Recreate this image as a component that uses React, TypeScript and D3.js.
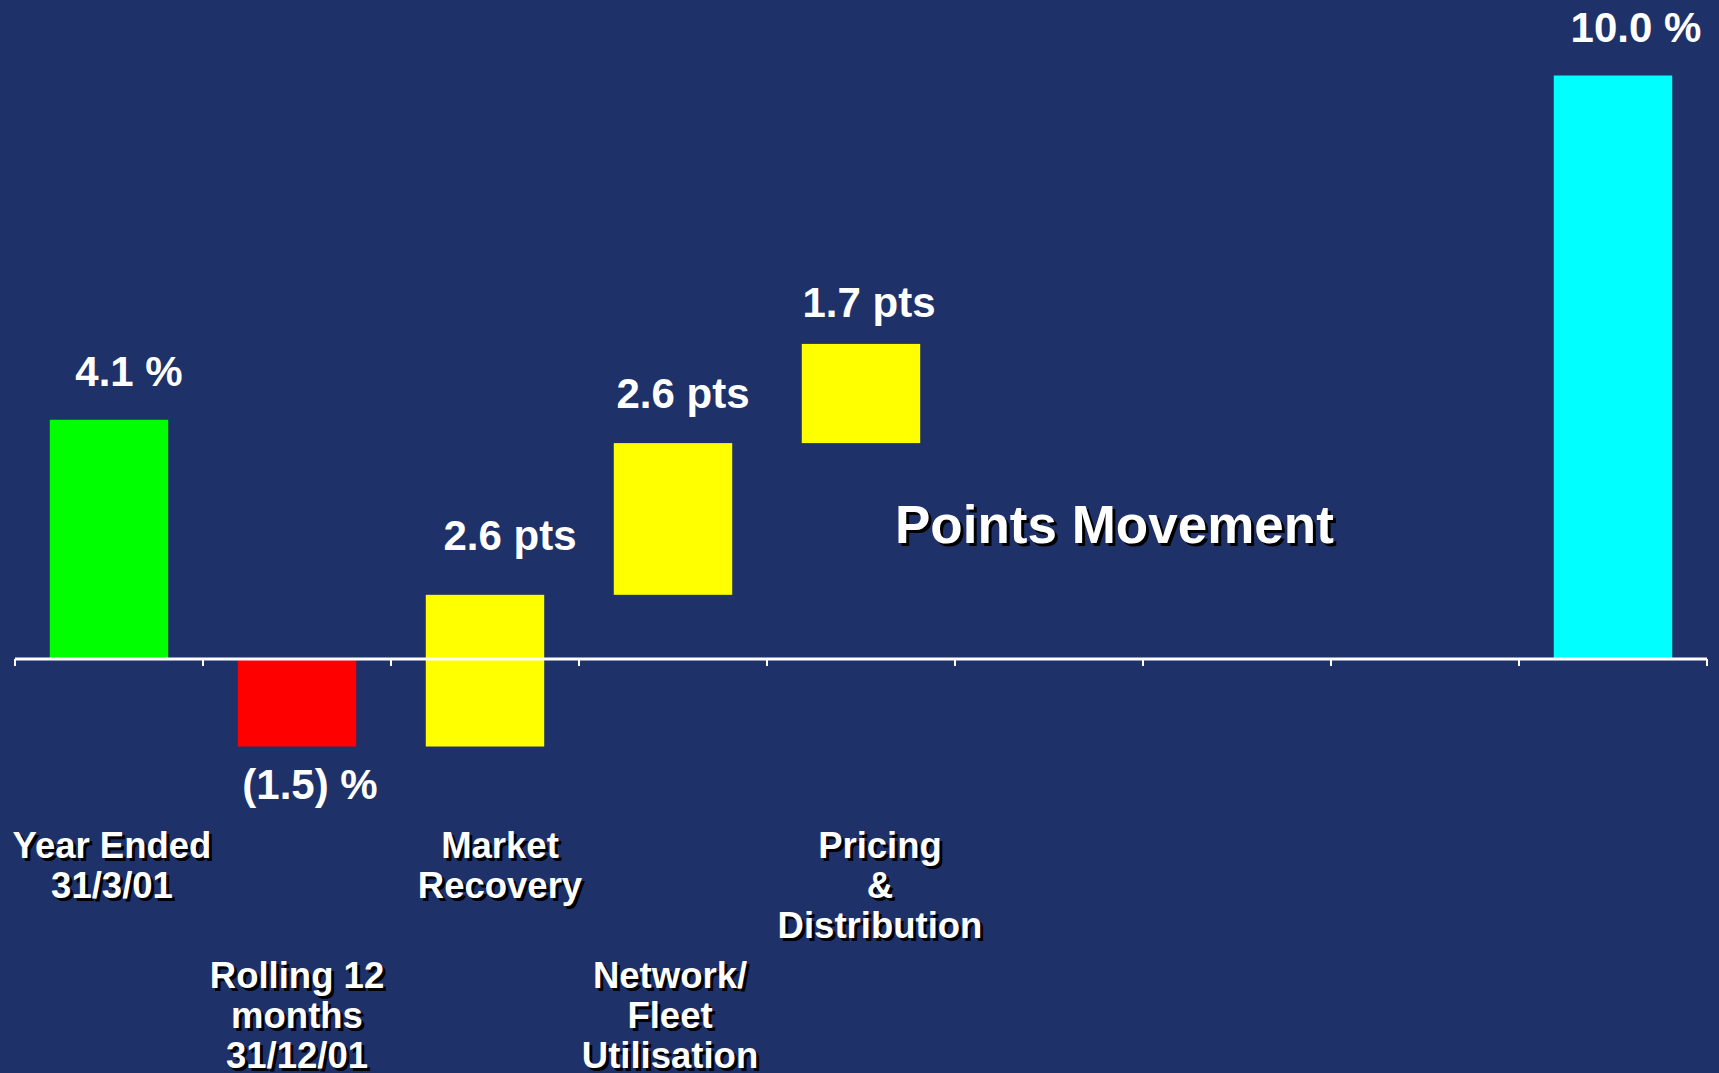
import React from "react";
import * as d3 from "d3";

// ---- data ----
const categories: string[] = [
  "Year Ended\n31/3/01",
  "Rolling 12\nmonths\n31/12/01",
  "Market\nRecovery",
  "Network/\nFleet\nUtilisation",
  "Pricing\n&\nDistribution",
  "",
  "",
  "",
  "",
];
const barCategoryIndex: number[] = [0, 1, 2, 3, 4, 8];
const barValues: number[] = [4.1, -1.5, 2.6, 2.6, 1.7, 10.0];
const barKinds: string[] = ["total", "total", "delta", "delta", "delta", "total"];
const barLabels: string[] = ["4.1 %", "(1.5) %", "2.6 pts", "2.6 pts", "1.7 pts", "10.0 %"];
const barColors: string[] = ["#00ff00", "#ff0000", "#ffff00", "#ffff00", "#ffff00", "#00ffff"];
const annotation = "Points Movement";

// ---- layout ----
const W = 1719;
const H = 1073;
const BG = "#1e3169";
const FONT = "'Liberation Sans', Arial, Helvetica, sans-serif";
const valueLabelNudge: [number, number][] = [
  [20, 0], [13, 0], [25, -11], [10, -1], [8, 7], [23, 0],
];
const catLabelNudge: number[] = [3, 0, 15, -3, 19, 0, 0, 0, 0];

export default function App() {
  const x = d3
    .scaleBand<number>()
    .domain(d3.range(categories.length))
    .range([15, 1707])
    .paddingInner(0.37)
    .paddingOuter(0.185);
  const y = d3.scaleLinear().domain([0, 10]).range([659, 75.5]);
  const step = x.step();
  const x0 = 15;

  // waterfall computation
  let running = 0;
  const bars = barValues.map((v, i) => {
    let start: number, end: number;
    if (barKinds[i] === "total") {
      start = 0;
      end = v;
      running = v;
    } else {
      start = running;
      end = running + v;
      running = end;
    }
    return { i, start, end, v, ci: barCategoryIndex[i] };
  });

  const ticks = d3.range(categories.length + 1).map((k) => x0 + k * step);
  const zeroY = y(0);

  return (
    <svg
      width={W}
      height={H}
      style={{ position: "absolute", left: 0, top: 0, display: "block" }}
      fontFamily={FONT}
    >
      <rect x={0} y={0} width={W} height={H} fill={BG} />

      {bars.map((b) => {
        const top = y(Math.max(b.start, b.end));
        const bottom = y(Math.min(b.start, b.end));
        return (
          <rect
            key={"bar" + b.i}
            x={x(b.ci)!}
            y={top}
            width={x.bandwidth()}
            height={bottom - top}
            fill={barColors[b.i]}
          />
        );
      })}

      {/* axis */}
      <line x1={x0} x2={ticks[ticks.length - 1]} y1={zeroY} y2={zeroY} stroke="#ffffff" strokeWidth={3} />
      {ticks.map((t, k) => (
        <line key={"t" + k} x1={t} x2={t} y1={zeroY} y2={zeroY + 7} stroke="#ffffff" strokeWidth={2} />
      ))}

      {/* value labels */}
      {bars.map((b) => {
        const cx = x(b.ci)! + x.bandwidth() / 2 + valueLabelNudge[b.i][0];
        const neg = b.v < 0;
        const baseY = neg
          ? y(Math.min(b.start, b.end)) + 52
          : y(Math.max(b.start, b.end)) - 34;
        return (
          <text
            key={"vl" + b.i}
            x={cx}
            y={baseY + valueLabelNudge[b.i][1]}
            textAnchor="middle"
            fontSize={42}
            fontWeight="bold"
            fill="#ffffff"
          >
            {barLabels[b.i]}
          </text>
        );
      })}

      {/* category labels with drop shadow */}
      {categories.map((c, ci) => {
        if (!c) return null;
        const lines = c.split("\n");
        const cx = x(ci)! + x.bandwidth() / 2 + catLabelNudge[ci];
        const firstBase = ci % 2 === 0 ? 858 : 988;
        return (
          <g key={"cat" + ci} fontSize={36.5} fontWeight="bold" textAnchor="middle">
            {[{ dx: 3, dy: 3, fill: "#000000" }, { dx: 0, dy: 0, fill: "#ffffff" }].map((s, si) => (
              <text key={si} x={cx + s.dx} y={firstBase + s.dy} fill={s.fill}>
                {lines.map((ln, li) => (
                  <tspan key={li} x={cx + s.dx} y={firstBase + s.dy + li * 40}>
                    {ln}
                  </tspan>
                ))}
              </text>
            ))}
          </g>
        );
      })}

      {/* annotation */}
      <g fontSize={53} fontWeight="bold">
        <text x={898} y={546} fill="#000000">{annotation}</text>
        <text x={895} y={543} fill="#ffffff">{annotation}</text>
      </g>
    </svg>
  );
}
